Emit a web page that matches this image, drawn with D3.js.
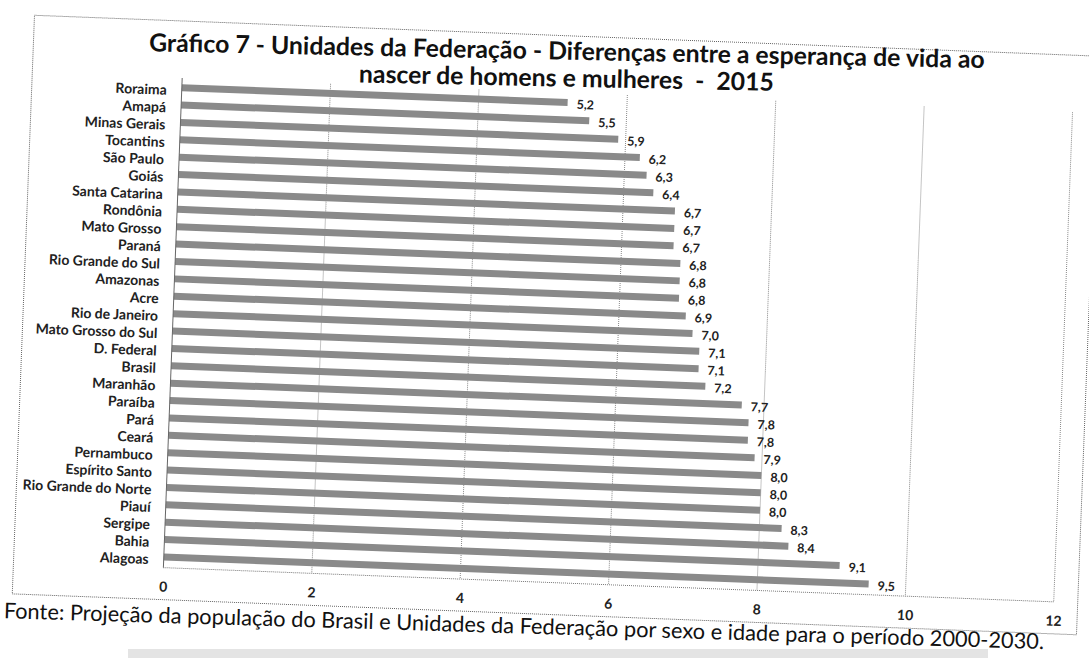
<!DOCTYPE html>
<html><head><meta charset="utf-8">
<script src="https://cdn.jsdelivr.net/npm/d3@7"></script>
<style>body{margin:0;background:#fff} svg{display:block}</style>
</head><body>
<svg id="c" width="1089" height="658"></svg>
<script>
const categories = ["Roraima","Amapá","Minas Gerais","Tocantins","São Paulo","Goiás","Santa Catarina","Rondônia","Mato Grosso","Paraná","Rio Grande do Sul","Amazonas","Acre","Rio de Janeiro","Mato Grosso do Sul","D. Federal","Brasil","Maranhão","Paraíba","Pará","Ceará","Pernambuco","Espírito Santo","Rio Grande do Norte","Piauí","Sergipe","Bahia","Alagoas"];
const values = [5.2,5.5,5.9,6.2,6.3,6.4,6.7,6.7,6.7,6.8,6.8,6.8,6.9,7.0,7.1,7.1,7.2,7.7,7.8,7.8,7.9,8.0,8.0,8.0,8.3,8.4,9.1,9.5];
const xTicks = [0,2,4,6,8,10,12];
const titleLines = ["Gráfico 7 - Unidades da Federação - Diferenças entre a esperança de vida ao","nascer de homens e mulheres  -  2015"];
const sourceText = "Fonte: Projeção da população do Brasil e Unidades da Federação por sexo e idade para o período 2000-2030.";

const svg = d3.select("#c");
const W = 891, H = 485;
const x = d3.scaleLinear().domain([0, 12]).range([0, W]);
const y = d3.scaleBand().domain(categories).range([-4, 483]);
const fmt = d3.formatLocale({decimal: ",", thousands: ".", grouping: [3], currency: ["R$", ""]}).format(".1f");
const font = "Lato, 'Open Sans', sans-serif";

// faint scan strip at bottom
svg.append("rect").attr("x", 128).attr("y", 649).attr("width", 860).attr("height", 12).attr("fill", "#e4e4e4");

const g = svg.append("g").attr("transform", "translate(182,83) rotate(2.2)");

// outer dotted frame
g.append("rect").attr("x", -150).attr("y", -62).attr("width", 1065).attr("height", 579)
  .attr("fill", "none").attr("stroke", "#666").attr("stroke-width", 1).attr("stroke-dasharray", "1,1");

// vertical gridlines
g.selectAll("line.grid").data(xTicks.slice(1)).join("line").attr("class", "grid")
  .attr("x1", d => x(d)).attr("x2", d => x(d)).attr("y1", -5).attr("y2", H)
  .attr("stroke", "#8a8a8a").attr("stroke-width", 1).attr("stroke-dasharray", "1,1");
// bottom dotted line
g.append("line").attr("x1", 0).attr("x2", W).attr("y1", H).attr("y2", H)
  .attr("stroke", "#777").attr("stroke-dasharray", "1,1");

// bars
const bh = 7;
g.selectAll("rect.bar").data(categories).join("rect").attr("class", "bar")
  .attr("x", 0).attr("y", (d) => y(d) + y.bandwidth() / 2 - bh / 2)
  .attr("width", (d, i) => x(values[i])).attr("height", bh).attr("fill", "#8a8a8a");

// value labels
g.selectAll("text.val").data(categories).join("text").attr("class", "val")
  .attr("x", (d, i) => x(values[i]) + 9).attr("y", d => y(d) + y.bandwidth() / 2 + 1.5)
  .attr("dy", "0.35em").attr("font-family", font).attr("font-weight", "bold")
  .attr("font-size", 12.5).attr("fill", "#222").text((d, i) => fmt(values[i]));

// left axis line
g.append("line").attr("x1", 0).attr("x2", 0).attr("y1", -5).attr("y2", H)
  .attr("stroke", "#666").attr("stroke-width", 1);

// category axis
const ya = g.append("g").call(d3.axisLeft(y).tickSize(0).tickPadding(15));
ya.select(".domain").remove();
ya.selectAll("text").attr("font-family", font).attr("font-weight", "bold")
  .attr("font-size", 14).attr("fill", "#222").attr("dy", "0.55em");

// value axis labels
const xa = g.append("g").attr("transform", `translate(0,${H})`)
  .call(d3.axisBottom(x).tickValues(xTicks).tickSize(0).tickPadding(14).tickFormat(d3.format("d")));
xa.select(".domain").remove();
xa.selectAll("text").attr("font-family", font).attr("font-weight", "bold")
  .attr("font-size", 14).attr("fill", "#222");

// title
const tg = svg.append("g").attr("transform", "translate(567,51) rotate(1.15)");
tg.selectAll("text").data(titleLines).join("text")
  .attr("x", 0).attr("y", (d, i) => i * 27).attr("dy", "0.35em")
  .attr("text-anchor", "middle").attr("font-family", font).attr("font-weight", "bold")
  .attr("font-size", 24.8).attr("fill", "#111").style("white-space", "pre").text(d => d);

// source
svg.append("g").attr("transform", "translate(524,626) rotate(1.7)")
  .append("text").attr("text-anchor", "middle").attr("dy", "0.35em")
  .attr("font-family", font).attr("font-size", 21.8).attr("fill", "#111").text(sourceText);
</script>
</body></html>
